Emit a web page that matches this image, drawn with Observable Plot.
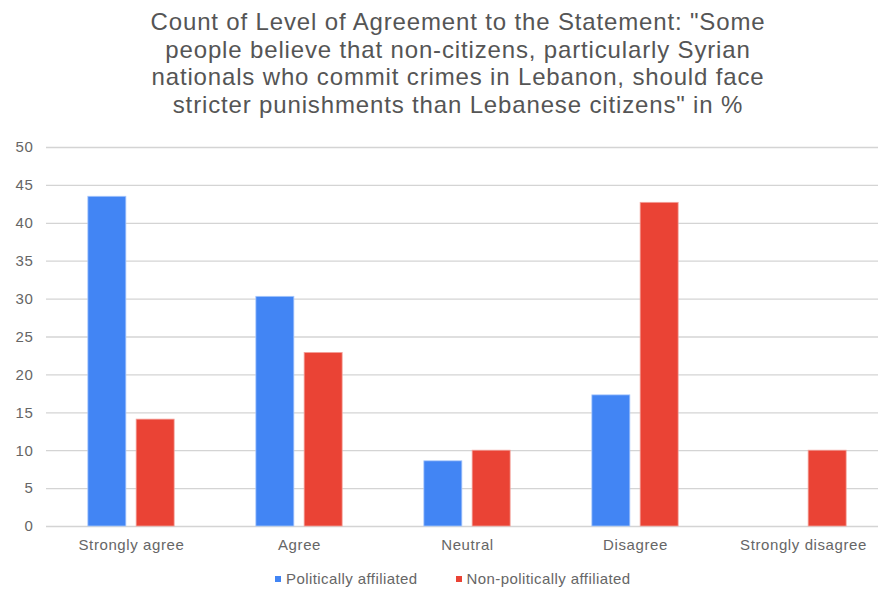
<!DOCTYPE html>
<html>
<head>
<meta charset="utf-8">
<script src="https://cdn.jsdelivr.net/npm/d3@7"></script>
<script src="https://cdn.jsdelivr.net/npm/@observablehq/plot@0.6"></script>
<style>
  html, body { margin: 0; padding: 0; background: #fff; }
  body { width: 878px; height: 590px; position: relative; overflow: hidden; font-family: "Liberation Sans", Arial, sans-serif; }
  #title { position: absolute; left: 0; top: 8px; width: 916px; text-align: center; font-size: 24px; letter-spacing: 0.85px; line-height: 27.7px; color: #555; }
  #chart { position: absolute; left: 0; top: 120px; }
  #chart svg text { letter-spacing: 0.6px; }
  #legend { position: absolute; top: 570px; left: 275px; display: flex; align-items: center; font-size: 15px; letter-spacing: 0.42px; color: #666; white-space: nowrap; }
  .sw { display: inline-block; width: 6px; height: 6px; margin-right: 5px; }
  .item { display: flex; align-items: center; }
</style>
</head>
<body>
<div id="title">Count of Level of Agreement to the Statement: "Some<br>people believe that non-citizens, particularly Syrian<br>nationals who commit crimes in Lebanon, should face<br>stricter punishments than Lebanese citizens" in %</div>
<div id="chart"></div>
<div id="legend"></div>
<script>
const categories = ["Strongly agree", "Agree", "Neutral", "Disagree", "Strongly disagree"];
const seriesNames = ["Politically affiliated", "Non-politically affiliated"];
const seriesColors = ["#4285F4", "#EA4335"];
const politicallyAffiliated = [43.5, 30.3, 8.6, 17.3, 0];
const nonPoliticallyAffiliated = [14.1, 22.9, 10.0, 42.7, 10.0];
const yTicks = [0, 5, 10, 15, 20, 25, 30, 35, 40, 45, 50];

const data = [];
categories.forEach((c, i) => {
  data.push({category: c, series: seriesNames[0], value: politicallyAffiliated[i]});
  data.push({category: c, series: seriesNames[1], value: nonPoliticallyAffiliated[i]});
});

const barW = 38.3, gap = 10;
const off = (barW + gap) / 2;

const plot = Plot.plot({
  width: 878,
  height: 440,
  marginLeft: 46,
  marginRight: 0,
  marginTop: 27,
  marginBottom: 34,
  style: {fontFamily: '"Liberation Sans", Arial, sans-serif', fontSize: "15px", color: "#666", background: "#fff"},
  x: {domain: categories, range: [46, 888], paddingInner: 0.7726, paddingOuter: 0.3863, label: null},
  y: {domain: [0, 50], label: null},
  color: {domain: seriesNames, range: seriesColors},
  marks: [
    Plot.ruleY(yTicks, {stroke: "#d4d4d4", strokeWidth: 1.3}),
    Plot.barY(data.filter(d => d.series === seriesNames[0] && d.value > 0), {x: "category", y: "value", fill: "series", dx: -off, inset: 0, stroke: "#a9c8fb", strokeWidth: 0.8}),
    Plot.barY(data.filter(d => d.series === seriesNames[1] && d.value > 0), {x: "category", y: "value", fill: "series", dx: off, inset: 0, stroke: "#f3a29b", strokeWidth: 0.8}),
    Plot.axisY({ticks: yTicks, tickSize: 0, tickPadding: 13, label: null, fill: "#666"}),
    Plot.axisX({tickSize: 0, tickPadding: 13, label: null, fill: "#666"})
  ]
});
document.getElementById("chart").appendChild(plot);

const legend = document.getElementById("legend");
seriesNames.forEach((name, i) => {
  const item = document.createElement("span");
  item.className = "item";
  item.style.marginRight = i === 0 ? "38px" : "0";
  const sw = document.createElement("span");
  sw.className = "sw";
  sw.style.background = seriesColors[i];
  item.appendChild(sw);
  item.appendChild(document.createTextNode(name));
  legend.appendChild(item);
});
</script>
</body>
</html>
